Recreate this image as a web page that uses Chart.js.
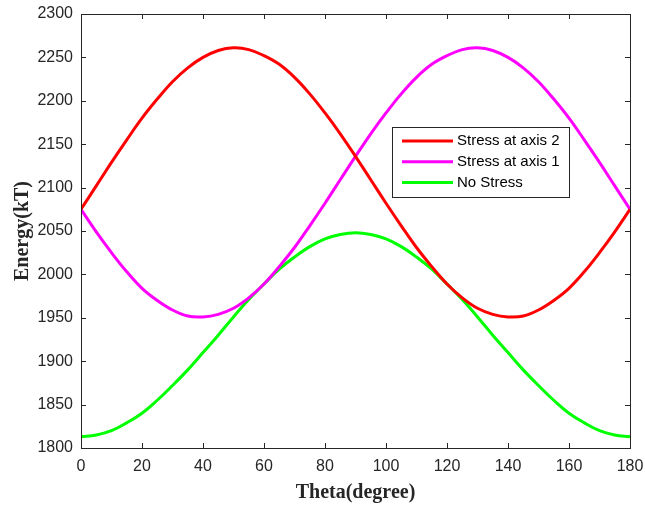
<!DOCTYPE html>
<html>
<head>
<meta charset="utf-8">
<script src="https://cdn.jsdelivr.net/npm/chart.js@4"></script>
<style>
    html, body { margin: 0; padding: 0; background: #fff; }
    #wrap { width: 645px; height: 506px; }
</style>
</head>
<body>
<div id="wrap"><canvas id="energyChart" width="645" height="506"></canvas></div>
<script>
// Angle in degrees, every 5 degrees
const theta = [0, 5, 10, 15, 20, 25, 30, 35, 40, 45, 50, 55, 60, 65, 70, 75, 80, 85, 90,
    95, 100, 105, 110, 115, 120, 125, 130, 135, 140, 145, 150, 155, 160, 165, 170, 175, 180];

// Energy (kT) per series
const stressAxis2 = [2075, 2102, 2129, 2155, 2180, 2202, 2222, 2238, 2250, 2258, 2261, 2259, 2252, 2242, 2227, 2208, 2186, 2162, 2136,
    2109, 2082, 2056, 2031, 2009, 1989, 1973, 1961, 1954, 1951, 1952, 1959, 1970, 1984, 2003, 2025, 2049, 2075];
const stressAxis1 = [2075, 2049, 2025, 2003, 1984, 1970, 1959, 1952, 1951, 1954, 1961, 1973, 1989, 2009, 2031, 2056, 2082, 2109, 2136,
    2162, 2186, 2208, 2227, 2242, 2252, 2259, 2261, 2258, 2250, 2238, 2222, 2202, 2180, 2155, 2129, 2102, 2075];
const noStress = [1813, 1815, 1820, 1829, 1840, 1855, 1872, 1890, 1910, 1930, 1951, 1971, 1989, 2006, 2020, 2032, 2041, 2046, 2048,
    2046, 2041, 2032, 2020, 2006, 1989, 1971, 1951, 1930, 1910, 1890, 1872, 1855, 1840, 1829, 1820, 1815, 1813];

const seriesNames = ['Stress at axis 2', 'Stress at axis 1', 'No Stress'];
const seriesColors = ['#ff0000', '#ff00ff', '#00ff00'];

const AXIS_COLOR = '#262626';

function toPoints(values) {
    return values.map((v, i) => ({ x: theta[i], y: v }));
}

// Box around the plot area with inward ticks on every side
const boxAxes = {
    id: 'boxAxes',
    afterDatasetsDraw(chart) {
        const { ctx, chartArea: a, scales } = chart;
        const tick = 5;
        ctx.save();
        ctx.strokeStyle = AXIS_COLOR;
        ctx.lineWidth = 1;
        ctx.beginPath();
        scales.x.ticks.forEach(t => {
            const px = Math.round(scales.x.getPixelForValue(t.value)) + 0.5;
            ctx.moveTo(px, a.bottom); ctx.lineTo(px, a.bottom - tick);
            ctx.moveTo(px, a.top); ctx.lineTo(px, a.top + tick);
        });
        scales.y.ticks.forEach(t => {
            const py = Math.round(scales.y.getPixelForValue(t.value)) + 0.5;
            ctx.moveTo(a.left, py); ctx.lineTo(a.left + tick, py);
            ctx.moveTo(a.right, py); ctx.lineTo(a.right - tick, py);
        });
        ctx.stroke();
        ctx.strokeRect(Math.round(a.left) + 0.5, Math.round(a.top) + 0.5,
            Math.round(a.right - a.left), Math.round(a.bottom - a.top));
        ctx.restore();
    }
};

// Legend box placed inside the plot area
const insideLegend = {
    id: 'insideLegend',
    afterDraw(chart) {
        const { ctx } = chart;
        const box = { x: 392, y: 127, w: 177, h: 70 };
        ctx.save();
        ctx.fillStyle = '#fff';
        ctx.fillRect(box.x, box.y, box.w, box.h);
        ctx.strokeStyle = AXIS_COLOR;
        ctx.lineWidth = 1;
        ctx.strokeRect(box.x + 0.5, box.y + 0.5, box.w, box.h);
        ctx.font = '15px "Liberation Sans", Arial, sans-serif';
        ctx.textBaseline = 'middle';
        chart.data.datasets.forEach((ds, i) => {
            const cy = box.y + 14 + i * 20.8;
            ctx.strokeStyle = ds.borderColor;
            ctx.lineWidth = 3;
            ctx.beginPath();
            ctx.moveTo(box.x + 10, cy);
            ctx.lineTo(box.x + 61, cy);
            ctx.stroke();
            ctx.fillStyle = '#000';
            ctx.fillText(ds.label, box.x + 65, cy);
        });
        ctx.restore();
    }
};

const ctx = document.getElementById('energyChart').getContext('2d');
new Chart(ctx, {
    type: 'line',
    data: {
        datasets: [stressAxis2, stressAxis1, noStress].map((vals, i) => ({
            label: seriesNames[i],
            data: toPoints(vals),
            borderColor: seriesColors[i],
            backgroundColor: seriesColors[i],
            borderWidth: 3,
            pointRadius: 0,
            tension: 0.4,
            fill: false
        }))
    },
    options: {
        responsive: false,
        animation: false,
        layout: { padding: { top: 14, right: 15, left: 0, bottom: 0 } },
        plugins: {
            legend: { display: false },
            tooltip: { enabled: false }
        },
        scales: {
            x: {
                type: 'linear',
                min: 0,
                max: 180,
                grid: { display: false, drawTicks: false },
                border: { display: false },
                ticks: {
                    stepSize: 20,
                    padding: 9,
                    color: AXIS_COLOR,
                    font: { family: '"Liberation Sans", Arial, sans-serif', size: 16 },
                    callback: v => String(v)
                },
                title: {
                    display: true,
                    text: 'Theta(degree)',
                    color: AXIS_COLOR,
                    padding: { top: 0, bottom: 1 },
                    font: { family: '"Liberation Serif", "Times New Roman", serif', size: 20, weight: 'bold' }
                },
                afterFit(scale) {
                    scale.height = 58;
                    scale.paddingLeft = 0;
                    scale.paddingRight = 0;
                }
            },
            y: {
                min: 1800,
                max: 2300,
                grid: { display: false, drawTicks: false },
                border: { display: false },
                ticks: {
                    stepSize: 50,
                    padding: 8,
                    color: AXIS_COLOR,
                    font: { family: '"Liberation Sans", Arial, sans-serif', size: 16 },
                    callback: v => String(v)
                },
                title: {
                    display: true,
                    text: 'Energy(kT)',
                    color: AXIS_COLOR,
                    padding: { top: 11, bottom: 0 },
                    font: { family: '"Liberation Serif", "Times New Roman", serif', size: 20, weight: 'bold' }
                },
                afterFit(scale) {
                    scale.width = 81;
                    scale.paddingTop = 0;
                    scale.paddingBottom = 0;
                }
            }
        }
    },
    plugins: [boxAxes, insideLegend]
});
</script>
</body>
</html>
